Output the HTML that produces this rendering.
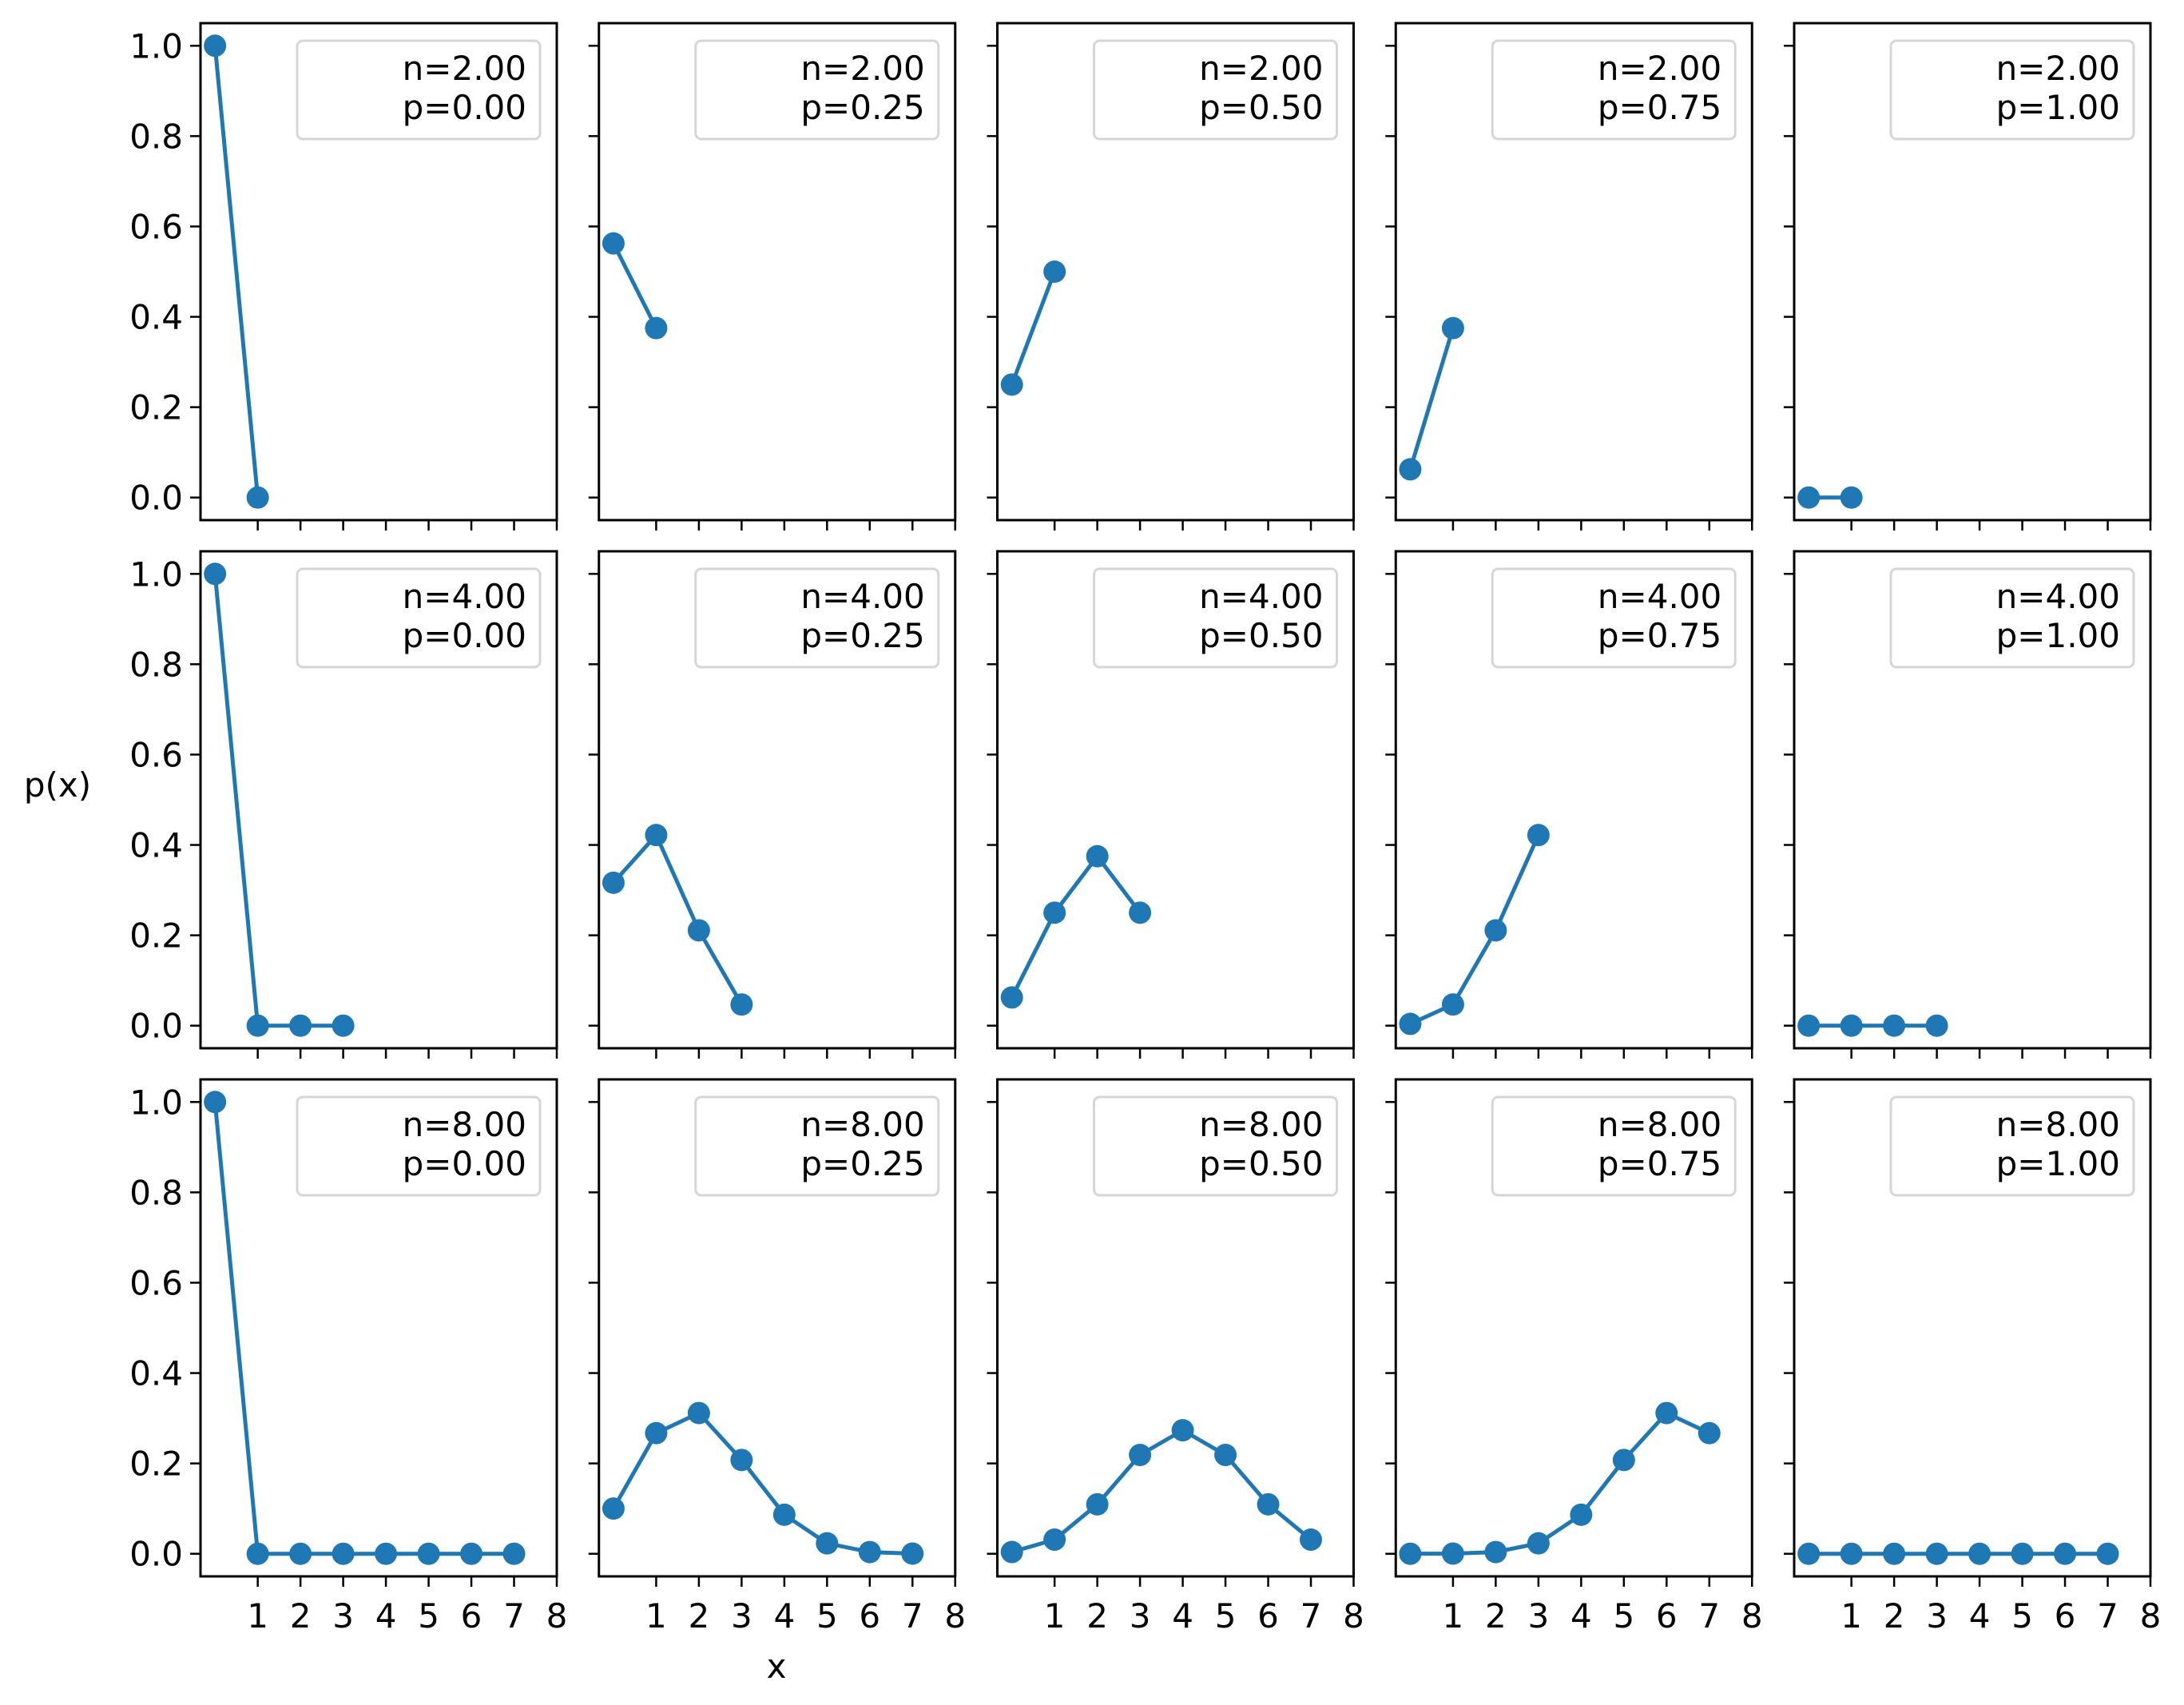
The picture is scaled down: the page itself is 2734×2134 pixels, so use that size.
<!DOCTYPE html>
<html><head><meta charset="utf-8"><style>
html,body{margin:0;padding:0;background:#fff;}
svg{display:block;font-family:"DejaVu Sans","Liberation Sans",sans-serif;}
</style></head><body>
<svg id="fig" width="2734" height="2134" viewBox="0 0 2734 2134" xmlns="http://www.w3.org/2000/svg">
<rect width="2734" height="2134" fill="#fff"/>
<text x="72" y="997" font-size="42" text-anchor="middle">p(x)</text>
<text x="972" y="2100" font-size="42" text-anchor="middle">x</text>
</svg>
<script>
const nValues = [2, 4, 8];
const pValues = [0, 0.25, 0.5, 0.75, 1];
const yTicks = [0, 0.2, 0.4, 0.6, 0.8, 1.0];
const yTickLabels = ["0.0", "0.2", "0.4", "0.6", "0.8", "1.0"];
const xTicks = [1, 2, 3, 4, 5, 6, 7, 8];
const pmfN2 = [[1, 0], [0.5625, 0.375], [0.25, 0.5], [0.0625, 0.375], [0, 0]];
const pmfN4 = [[1, 0, 0, 0], [0.3164, 0.4219, 0.2109, 0.0469], [0.0625, 0.25, 0.375, 0.25], [0.0039, 0.0469, 0.2109, 0.4219], [0, 0, 0, 0]];
const pmfN8 = [[1, 0, 0, 0, 0, 0, 0, 0], [0.1001, 0.2670, 0.3115, 0.2076, 0.0865, 0.0231, 0.0038, 0.0004], [0.0039, 0.0313, 0.1094, 0.2188, 0.2734, 0.2188, 0.1094, 0.0313], [0.0000, 0.0004, 0.0038, 0.0231, 0.0865, 0.2076, 0.3115, 0.2670], [0, 0, 0, 0, 0, 0, 0, 0]];
const pmfRows = [pmfN2, pmfN4, pmfN8];

const NS = "http://www.w3.org/2000/svg";
const svg = document.getElementById("fig");
const colLeft0 = 251, colStep = 498.75, axW = 446;
const rowTop0 = 29, rowStep = 661, axH = 622;
const xMin = -0.34, xMax = 8, yMin = -0.05, yMax = 1.05;
function mk(tag, attrs, parent) {
  const e = document.createElementNS(NS, tag);
  for (const k in attrs) e.setAttribute(k, attrs[k]);
  (parent || svg).appendChild(e);
  return e;
}
for (let r = 0; r < nValues.length; r++) {
  for (let c = 0; c < pValues.length; c++) {
    const L = colLeft0 + c * colStep, T = rowTop0 + r * rowStep;
    const sx = v => L + (v - xMin) / (xMax - xMin) * axW;
    const sy = v => T + axH - (v - yMin) / (yMax - yMin) * axH;
    const g = mk("g", {});
    
    
    yTicks.forEach((t, i) => {
      const tk = mk("line", {x1: L - 13, x2: L, y1: sy(t), y2: sy(t), stroke: "#000", "stroke-width": 2.5}, g);
      
      
      if (c === 0) {
        const tl = mk("text", {x: L - 22, y: sy(t) + 15, "font-size": 42, "text-anchor": "end"}, g);
        tl.textContent = yTickLabels[i];
        
        
      }
    });
    xTicks.forEach(t => {
      const tk = mk("line", {x1: sx(t), x2: sx(t), y1: T + axH, y2: T + axH + 13, stroke: "#000", "stroke-width": 2.5}, g);
      
      
      if (r === nValues.length - 1) {
        const tl = mk("text", {x: sx(t), y: T + axH + 64, "font-size": 42, "text-anchor": "middle"}, g);
        tl.textContent = String(t);
        
        
      }
    });
    const vals = pmfRows[r][c];
    const pts = vals.map((v, i) => sx(i) + "," + sy(v)).join(" ");
    const line = mk("polyline", {points: pts, fill: "none", stroke: "#1f77b4", "stroke-width": 5, "stroke-linejoin": "round"}, g);
    
    
    vals.forEach((v, i) => {
      const m = mk("circle", {cx: sx(i), cy: sy(v), r: 14, fill: "#1f77b4"}, g);
      
      
    });
    const fr = mk("rect", {x: L, y: T, width: axW, height: axH, fill: "none", stroke: "#000", "stroke-width": 3}, g);
    
    
    const lg = mk("rect", {x: L + 121, y: T + 22, width: axW - 142, height: 123, rx: 7, fill: "#fff", "fill-opacity": 0.8, stroke: "#d6d6d6", "stroke-width": 3}, g);
    
    
    const t1 = mk("text", {x: L + axW - 38, y: T + 71, "font-size": 42, "text-anchor": "end"}, g);
    t1.textContent = "n=" + nValues[r].toFixed(2);
    
    
    const t2 = mk("text", {x: L + axW - 38, y: T + 120, "font-size": 42, "text-anchor": "end"}, g);
    t2.textContent = "p=" + pValues[c].toFixed(2);
    
    
  }
}
</script>
</body></html>
